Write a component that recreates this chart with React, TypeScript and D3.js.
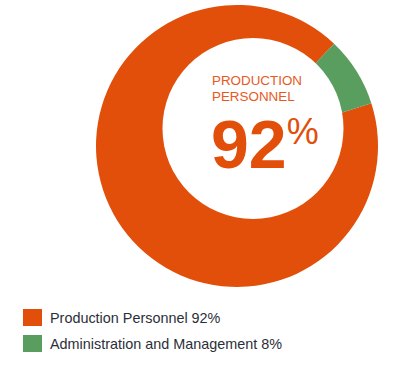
import React from "react";
import * as d3 from "d3";

const width = 393;
const height = 371;

// chart data
const categories = ["Production Personnel", "Administration and Management"];
const shares = [92, 8];
const colors = ["#E24F0B", "#599E5F"];

const centerLabel = ["PRODUCTION", "PERSONNEL"];

const App = () => {
  const cx = 237;
  const cy = 146;
  const outerR = 141;

  // orange slice starts just after the green wedge (clockwise from top)
  const startAngle = (72.3 * Math.PI) / 180;
  const pie = d3
    .pie<number>()
    .sort(null)
    .value((d) => d)
    .startAngle(startAngle)
    .endAngle(startAngle + 2 * Math.PI);
  const arcs = pie(shares);
  const arc = d3.arc<d3.PieArcDatum<number>>().innerRadius(0).outerRadius(outerR);

  // hole is slightly off-centre, up and to the right
  const hole = { x: cx + 16, y: cy - 17.5, r: 90.5 };

  return (
    <svg
      width={width}
      height={height}
      style={{ position: "absolute", left: 0, top: 0, background: "#fff" }}
      fontFamily="'Liberation Sans', Arial, sans-serif"
    >
      <g transform={`translate(${cx},${cy})`}>
        {arcs.map((a, i) => (
          <path key={categories[i]} d={arc(a) || ""} fill={colors[i]} />
        ))}
      </g>
      <circle cx={hole.x} cy={hole.y} r={hole.r} fill="#fff" />

      {/* centre label */}
      <g fill="#E8591E" fontSize={13.4}>
        {centerLabel.map((t, i) => (
          <text key={t} x={212} y={85 + i * 16}>
            {t}
          </text>
        ))}
      </g>
      <text x={211} y={168} fill={colors[0]} fontSize={68} fontWeight="bold">
        {shares[0]}
        <tspan fontSize={36} fontWeight="normal" dy={-24}>
          %
        </tspan>
      </text>

      {/* legend */}
      {categories.map((c, i) => (
        <g key={c} transform={`translate(23,${309 + i * 26})`}>
          <rect width={19} height={17} fill={colors[i]} />
          <text x={27} y={14} fontSize={14.4} fill="#2b2f38">
            {`${c} ${shares[i]}%`}
          </text>
        </g>
      ))}
    </svg>
  );
};

export default App;
